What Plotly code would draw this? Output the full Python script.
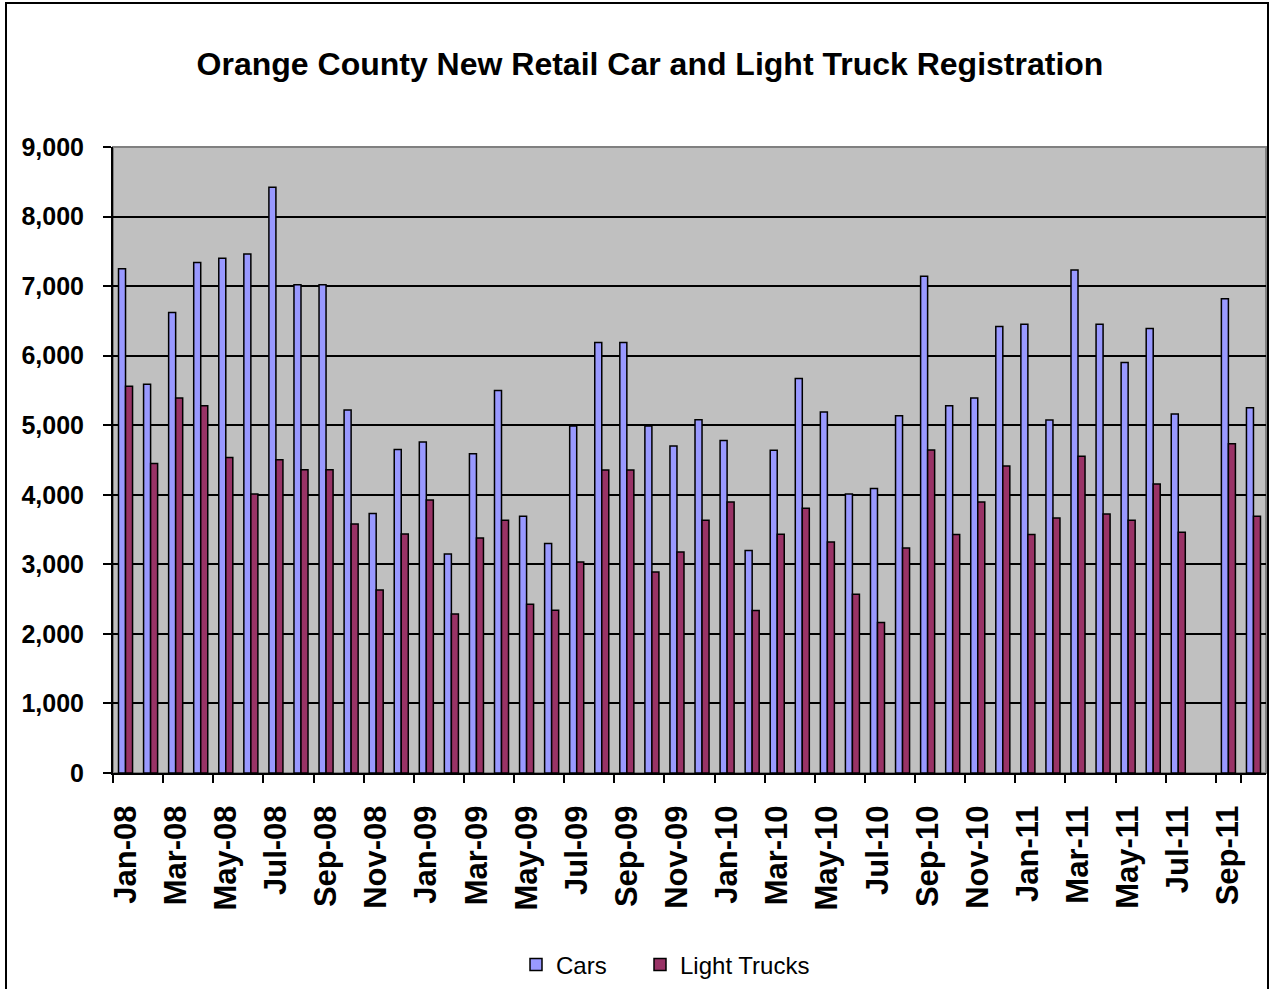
import plotly.graph_objects as go

months = ["Jan-08","Feb-08","Mar-08","Apr-08","May-08","Jun-08","Jul-08","Aug-08","Sep-08","Oct-08","Nov-08","Dec-08",
          "Jan-09","Feb-09","Mar-09","Apr-09","May-09","Jun-09","Jul-09","Aug-09","Sep-09","Oct-09","Nov-09","Dec-09",
          "Jan-10","Feb-10","Mar-10","Apr-10","May-10","Jun-10","Jul-10","Aug-10","Sep-10","Oct-10","Nov-10","Dec-10",
          "Jan-11","Feb-11","Mar-11","Apr-11","May-11","Jun-11","Jul-11","Aug-11","Sep-11","Oct-11"]

cars = [7250, 5590, 6620, 7340, 7400, 7460, 8420, 7020, 7020, 5220, 3730, 4650,
        4760, 3150, 4590, 5500, 3690, 3300, 4990, 6190, 6190, 4990, 4700, 5080,
        4780, 3200, 4640, 5670, 5190, 4010, 4090, 5135, 7140, 5280, 5390, 6420,
        6450, 5075, 7230, 6450, 5900, 6390, 5160, None, 6820, 5250]

light_trucks = [5560, 4450, 5390, 5280, 4535, 4010, 4505, 4360, 4360, 3580, 2630, 3435,
                3925, 2285, 3380, 3635, 2425, 2340, 3035, 4355, 4355, 2890, 3177, 3635,
                3895, 2338, 3432, 3808, 3322, 2570, 2165, 3235, 4645, 3430, 3895, 4415,
                3430, 3665, 4555, 3722, 3635, 4155, 3462, None, 4732, 3693]

tick_labels = months[::2]
y_ticks = list(range(0, 9001, 1000))

FONT = "Liberation Sans, Arial, sans-serif"

fig = go.Figure()
fig.add_trace(go.Bar(x=months, y=cars, name="Cars", legend="legend",
                     marker=dict(color="#9999FF", line=dict(color="black", width=1.5))))
fig.add_trace(go.Bar(x=months, y=light_trucks, name="Light Trucks", legend="legend2",
                     marker=dict(color="#993366", line=dict(color="black", width=1.5))))

W, H = 1274, 989
L, R, T, B = 113, 8, 147, 216
pw, ph = W - L - R, H - T - B

def px(xp):
    return (xp - L) / pw

def py(yp):
    return (H - B - yp) / ph

legend_style = dict(orientation="h", xanchor="left", y=py(965), yanchor="middle",
                    font=dict(size=24, family=FONT, color="black"),
                    itemwidth=30, bgcolor="rgba(0,0,0,0)")

fig.update_layout(
    width=W, height=H,
    margin=dict(l=L, r=R, t=T, b=B, autoexpand=False),
    paper_bgcolor="white",
    plot_bgcolor="#C0C0C0",
    barmode="group",
    bargap=0.44,
    bargroupgap=0,
    font=dict(family=FONT, color="black"),
    title=dict(text="Orange County New Retail Car and Light Truck Registration",
               x=650 / W, xanchor="center", y=1 - 64 / H, yanchor="middle",
               font=dict(size=32, family=FONT, weight="bold", color="black")),
    legend=dict(x=px(516), **legend_style),
    legend2=dict(x=px(640), **legend_style),
    showlegend=True,
    shapes=[
        dict(type="rect", xref="paper", yref="paper", x0=0, x1=1, y0=0, y1=1,
             line=dict(color="#808080", width=2), layer="below"),
        dict(type="rect", xref="paper", yref="paper",
             x0=px(6), x1=px(1268), y0=py(995), y1=py(3),
             line=dict(color="black", width=2)),
    ],
)

fig.update_xaxes(
    type="category",
    tickmode="array", tickvals=tick_labels, ticktext=tick_labels,
    tickson="boundaries",
    ticks="outside", ticklen=8, tickwidth=2, tickcolor="black",
    tickangle=-90,
    tickfont=dict(size=31, family=FONT, weight="bold", color="black"),
    ticklabelstandoff=18,
    showline=True, linecolor="black", linewidth=2,
    showgrid=False, zeroline=False,
    range=[-0.5, len(months) - 0.5],
)

fig.update_yaxes(
    range=[0, 9000],
    tickmode="array", tickvals=y_ticks,
    tickformat=",",
    ticks="outside", ticklen=8, tickwidth=2, tickcolor="black",
    tickfont=dict(size=25, family=FONT, weight="bold", color="black"),
    ticklabelstandoff=14,
    showline=True, linecolor="black", linewidth=2,
    showgrid=True, gridcolor="black", gridwidth=1.5,
    zeroline=False,
)

fig.write_html("out.html",
               config={"displayModeBar": False},
               post_script="document.body.style.margin='0';document.body.style.overflow='hidden';")
